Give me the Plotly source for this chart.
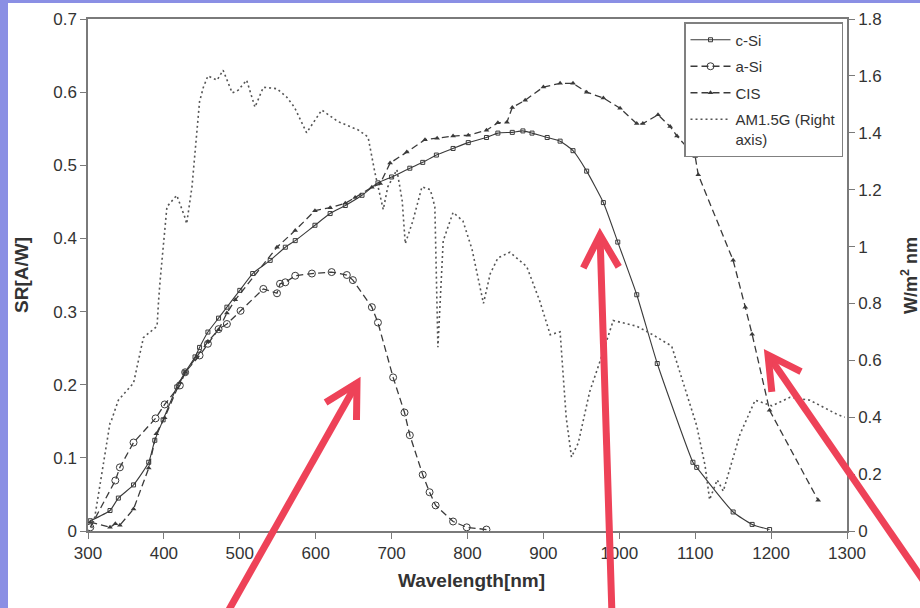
import plotly.graph_objects as go
import math

# ---------------- data ----------------
c_si_x = [303, 329, 340, 360, 380, 388, 399, 417, 428, 441, 447, 458, 472, 483, 500, 517, 540, 560,
          573, 599, 619, 639, 661, 682, 700, 724, 741, 759, 781, 801, 825, 840, 859, 873, 885, 905,
          922, 939, 957, 979, 998, 1023, 1050, 1097, 1102, 1150, 1175, 1198]
c_si_y = [0.014, 0.028, 0.045, 0.063, 0.094, 0.124, 0.152, 0.197, 0.217, 0.238, 0.251, 0.272, 0.291,
          0.306, 0.329, 0.352, 0.370, 0.388, 0.397, 0.418, 0.434, 0.445, 0.459, 0.476, 0.484, 0.496,
          0.504, 0.514, 0.523, 0.531, 0.538, 0.544, 0.545, 0.547, 0.544, 0.538, 0.533, 0.520, 0.492,
          0.449, 0.395, 0.323, 0.229, 0.094, 0.087, 0.026, 0.009, 0.002]

a_si_x = [303, 336, 342, 360, 389, 401, 421, 428, 447, 458, 472, 483, 501, 531, 549, 553, 560, 573,
          595, 621, 641, 649, 674, 682, 702, 717, 724, 741, 750, 758, 781, 799, 825]
a_si_y = [0.005, 0.069, 0.087, 0.121, 0.154, 0.173, 0.199, 0.217, 0.240, 0.256, 0.276, 0.283, 0.301,
          0.331, 0.325, 0.338, 0.340, 0.349, 0.352, 0.354, 0.350, 0.343, 0.306, 0.285, 0.210, 0.162,
          0.131, 0.077, 0.053, 0.035, 0.013, 0.005, 0.002]

cis_x = [303, 329, 336, 342, 360, 380, 390, 401, 421, 428, 443, 458, 472, 483, 494, 549, 573, 599,
         619, 639, 652, 674, 685, 698, 720, 744, 760, 781, 801, 825, 840, 852, 859, 876, 900, 922,
         939, 957, 979, 1001, 1023, 1031, 1051, 1067, 1076, 1100, 1104, 1150, 1166, 1175, 1198, 1262]
cis_y = [0.012, 0.005, 0.010, 0.008, 0.030, 0.086, 0.133, 0.155, 0.203, 0.217, 0.238, 0.259, 0.275,
         0.298, 0.316, 0.388, 0.411, 0.438, 0.442, 0.448, 0.456, 0.470, 0.475, 0.503, 0.518, 0.535,
         0.537, 0.540, 0.541, 0.548, 0.558, 0.559, 0.579, 0.589, 0.607, 0.612, 0.612, 0.600, 0.592,
         0.578, 0.557, 0.557, 0.569, 0.553, 0.540, 0.512, 0.487, 0.370, 0.306, 0.269, 0.165, 0.042]

am_x = [305, 309, 329, 331, 340, 360, 373, 391, 393, 395, 404, 410, 417, 428, 430, 437, 447, 452,
        458, 470, 478, 490, 498, 509, 520, 531, 549, 562, 572, 588, 608, 629, 656, 669, 678, 689,
        695, 707, 714, 718, 728, 740, 751, 757, 761, 768, 781, 794, 806, 821, 830, 840, 856, 878,
        895, 909, 922, 930, 937, 946, 961, 975, 992, 1023, 1044, 1069, 1084, 1102, 1113, 1119, 1129,
        1137, 1159, 1179, 1201, 1225, 1251, 1287, 1297]
am_y = [0.01, 0.05, 0.38, 0.39, 0.46, 0.52, 0.68, 0.72, 0.81, 0.88, 1.14, 1.16, 1.18, 1.10, 1.08,
        1.21, 1.51, 1.56, 1.60, 1.585, 1.62, 1.54, 1.55, 1.585, 1.49, 1.56, 1.555, 1.525, 1.49, 1.40,
        1.48, 1.44, 1.41, 1.385, 1.26, 1.13, 1.21, 1.27, 1.16, 1.01, 1.09, 1.21, 1.20, 1.14, 0.646,
        1.02, 1.12, 1.09, 0.99, 0.80, 0.905, 0.96, 0.98, 0.93, 0.81, 0.69, 0.70, 0.40, 0.26, 0.31,
        0.49, 0.60, 0.74, 0.72, 0.69, 0.65, 0.52, 0.37, 0.23, 0.11, 0.18, 0.14, 0.34, 0.46, 0.44,
        0.47, 0.46, 0.41, 0.40]

x_ticks = [300, 400, 500, 600, 700, 800, 900, 1000, 1100, 1200, 1300]
y_ticks = [0, 0.1, 0.2, 0.3, 0.4, 0.5, 0.6, 0.7]
y2_ticks = [0, 0.2, 0.4, 0.6, 0.8, 1, 1.2, 1.4, 1.6, 1.8]

# ---------------- layout geometry ----------------
W, H = 920, 608
L, R, T, B = 88, 73, 19, 77
PW, PH = W - L - R, H - T - B


def px(x, y):
    return (x - L) / PW, (H - B - y) / PH


FONT = "Liberation Sans, Arial, Helvetica, sans-serif"
INK = "#333333"
AX = "#7a7a7a"

fig = go.Figure()

fig.add_trace(go.Scatter(
    x=c_si_x, y=c_si_y, name="c-Si", mode="lines+markers",
    line=dict(color="#3a3a3a", width=1.1, shape="spline", smoothing=0.5),
    marker=dict(symbol="square-open", size=4, color="#3a3a3a", line=dict(width=1)),
    legendgroup="a"))
fig.add_trace(go.Scatter(
    x=a_si_x, y=a_si_y, name="a-Si", mode="lines+markers",
    line=dict(color="#3a3a3a", width=1.3, dash="7px,4px"),
    marker=dict(symbol="circle-open", size=7, color="#3a3a3a", line=dict(width=1)),
    legendgroup="b"))
fig.add_trace(go.Scatter(
    x=cis_x, y=cis_y, name="CIS", mode="lines+markers",
    line=dict(color="#3a3a3a", width=1.3, dash="7px,4px"),
    marker=dict(symbol="triangle-up", size=5, color="#3a3a3a"),
    legendgroup="c"))
fig.add_trace(go.Scatter(
    x=am_x, y=am_y, name="AM1.5G (Right<br>axis)", mode="lines", yaxis="y2",
    line=dict(color="#555555", width=1.6, dash="2px,3px"),
    legendgroup="d"))

shapes = []
# white card
x0, y0 = px(8, 608)
x1, y1 = px(920, 3)
shapes.append(dict(type="rect", xref="paper", yref="paper", x0=x0, y0=y0, x1=x1, y1=y1,
                   fillcolor="white", line=dict(width=0), layer="below"))

# red arrows (tail -> tip)
RED = "#ee4258"
arrows = [((226, 615), (357, 383)), ((612, 615), (600, 235)), ((930, 590), (768, 355))]
for (tx, ty), (hx, hy) in arrows:
    a0, b0 = px(tx, ty)
    a1, b1 = px(hx, hy)
    shapes.append(dict(type="line", xref="paper", yref="paper", x0=a0, y0=b0, x1=a1, y1=b1,
                       line=dict(color=RED, width=7), layer="above"))
    ang = math.atan2(ty - hy, tx - hx)
    pts = []
    for d in (-0.5, 0.5):
        ex = hx + 37 * math.cos(ang + d)
        ey = hy + 37 * math.sin(ang + d)
        pts.append(px(ex, ey))
    ax_, ay_ = px(hx, hy)
    path = f"M {pts[0][0]},{pts[0][1]} L {ax_},{ay_} L {pts[1][0]},{pts[1][1]}"
    shapes.append(dict(type="path", xref="paper", yref="paper", path=path,
                       line=dict(color=RED, width=7), layer="above"))

annotations = [
    dict(text="<b>Wavelength[nm]</b>", xref="paper", yref="paper", x=px(471, 0)[0], y=px(0, 580)[1],
         showarrow=False, font=dict(family=FONT, size=19, color=INK), xanchor="center", yanchor="middle"),
    dict(text="<b>SR[A/W]</b>", xref="paper", yref="paper", x=px(21, 0)[0], y=0.5, textangle=-90,
         showarrow=False, font=dict(family=FONT, size=19, color=INK), xanchor="center", yanchor="middle"),
    dict(text="<b>W/m<sup>2</sup> nm</b>", xref="paper", yref="paper", x=px(909, 0)[0], y=0.5,
         textangle=-90, showarrow=False, font=dict(family=FONT, size=18, color=INK),
         xanchor="center", yanchor="middle"),
]

axis_common = dict(showline=True, linecolor=AX, linewidth=1.5, ticks="outside", ticklen=6,
                   tickcolor=AX, tickwidth=1.2, showgrid=False, zeroline=False,
                   tickfont=dict(family=FONT, size=17, color=INK))

lx, ly = px(843, 22)
fig.update_layout(
    width=W, height=H,
    margin=dict(l=L, r=R, t=T, b=B, autoexpand=False),
    paper_bgcolor="#8a8fe4",
    plot_bgcolor="white",
    font=dict(family=FONT, color=INK),
    xaxis=dict(range=[300, 1300], tickvals=x_ticks, mirror=True, **axis_common),
    yaxis=dict(range=[0, 0.7], tickvals=y_ticks, **axis_common),
    yaxis2=dict(range=[0, 1.8], tickvals=y2_ticks, overlaying="y", side="right", **axis_common),
    legend=dict(x=lx, y=ly, xanchor="right", yanchor="top", bgcolor="white",
                bordercolor="#808080", borderwidth=1.5, font=dict(family=FONT, size=15, color=INK),
                tracegroupgap=4, itemwidth=40, valign="top"),
    shapes=shapes,
    annotations=annotations,
)

fig.write_html("out.html", config={"displayModeBar": False},
               post_script="document.body.style.margin='0';document.body.style.overflow='hidden';")
